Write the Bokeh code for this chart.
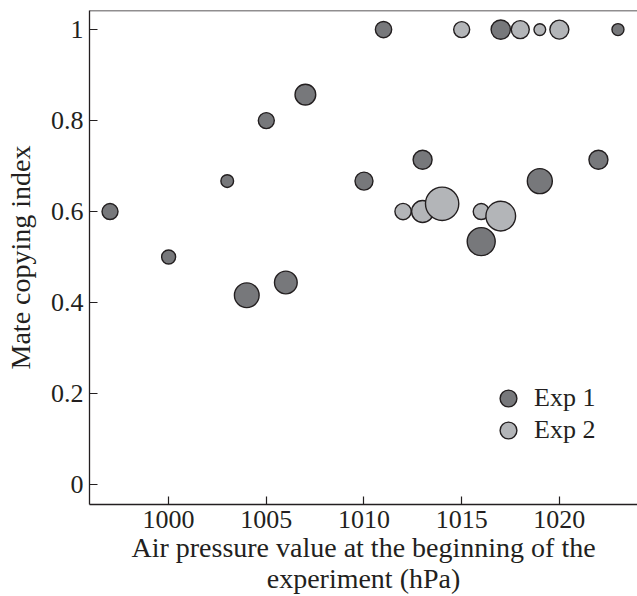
from bokeh.plotting import figure
from bokeh.models import Legend, LegendItem, Span, FixedTicker, ColumnDataSource, Range1d
from bokeh.embed import file_html
from bokeh.resources import INLINE

# ---- data ----
exp1_pressure = [997, 1000, 1003, 1004, 1005, 1006, 1007, 1010, 1011, 1013, 1016, 1017, 1019, 1022, 1023]
exp1_index = [0.60, 0.50, 0.667, 0.416, 0.80, 0.444, 0.857, 0.667, 1.0, 0.714, 0.534, 1.0, 0.667, 0.714, 1.0]
exp1_bubble = [16, 14, 12.7, 24.7, 16, 22.7, 20.7, 18, 16.3, 19, 28, 19.3, 25, 19, 12]

exp2_pressure = [1012, 1013, 1014, 1015, 1016, 1017, 1018, 1019, 1020]
exp2_index = [0.60, 0.60, 0.617, 1.0, 0.60, 0.59, 1.0, 1.0, 1.0]
exp2_bubble = [16.3, 22, 33.3, 16, 16, 29.7, 18, 11.7, 19]

x_ticks = [1000, 1005, 1010, 1015, 1020]
y_ticks = [0, 0.2, 0.4, 0.6, 0.8, 1.0]
y_tick_labels = ["0", "0.2", "0.4", "0.6", "0.8", "1"]

series_names = ["Exp 1", "Exp 2"]

# ---- styles ----
FONT = "Liberation Serif"
TXT = "#231f20"
DARK = "#77787b"
LIGHT = "#b3b5b8"
EDGE = "#231f20"
FS = "26px"
FS_TITLE = "28px"

p = figure(width=637, height=596, output_backend="svg", toolbar_location=None,
           x_range=Range1d(995.95, 1024.0), y_range=Range1d(-0.044, 1.042),
           min_border_left=89, min_border_right=0, min_border_top=10, min_border_bottom=10)
p.outline_line_color = None
p.grid.visible = False
p.background_fill_color = "white"
p.border_fill_color = "white"

src1 = ColumnDataSource(dict(x=exp1_pressure, y=exp1_index, s=exp1_bubble))
src2 = ColumnDataSource(dict(x=exp2_pressure, y=exp2_index, s=exp2_bubble))

r1 = p.scatter("x", "y", size="s", source=src1, fill_color=DARK, line_color=EDGE, line_width=1.4)
r2 = p.scatter("x", "y", size="s", source=src2, fill_color=LIGHT, line_color=EDGE, line_width=1.4)

# top frame line
p.add_layout(Span(location=1.042, dimension="width", line_color=TXT, line_width=1.3))

# axes
xa = p.xaxis[0]
xa.ticker = FixedTicker(ticks=x_ticks)
xa.axis_label = "Air pressure value at the beginning of the\nexperiment (hPa)"
ya = p.yaxis[0]
ya.ticker = FixedTicker(ticks=y_ticks)
ya.major_label_overrides = {t: l for t, l in zip(y_ticks, y_tick_labels)}
ya.axis_label = "Mate copying index"
for ax in (xa, ya):
    ax.axis_line_color = TXT
    ax.axis_line_width = 1.3
    ax.major_tick_line_color = TXT
    ax.major_tick_line_width = 1.2
    ax.major_tick_in = 8
    ax.major_tick_out = 0
    ax.minor_tick_line_color = None
    ax.major_label_text_font = FONT
    ax.major_label_text_font_size = FS
    ax.major_label_text_color = TXT
    ax.axis_label_text_font = FONT
    ax.axis_label_text_font_size = FS_TITLE
    ax.axis_label_text_font_style = "normal"
    ax.axis_label_text_color = TXT
    ax.axis_label_text_line_height = 1.0
xa.major_label_standoff = 6
xa.axis_label_standoff = 1
ya.major_label_standoff = 6
ya.axis_label_standoff = 12

# legend: one block per series
for r, name, yloc in ((r1, series_names[0], 85), (r2, series_names[1], 53)):
    lg = Legend(items=[LegendItem(label=name, renderers=[r])], location=(398, yloc),
                glyph_width=42, glyph_height=42, label_standoff=5, padding=10, margin=0,
                border_line_color=None, background_fill_alpha=0,
                label_text_font=FONT, label_text_font_size=FS, label_text_color=TXT)
    p.add_layout(lg, "center")

open("out.html", "w").write(file_html(p, INLINE))
